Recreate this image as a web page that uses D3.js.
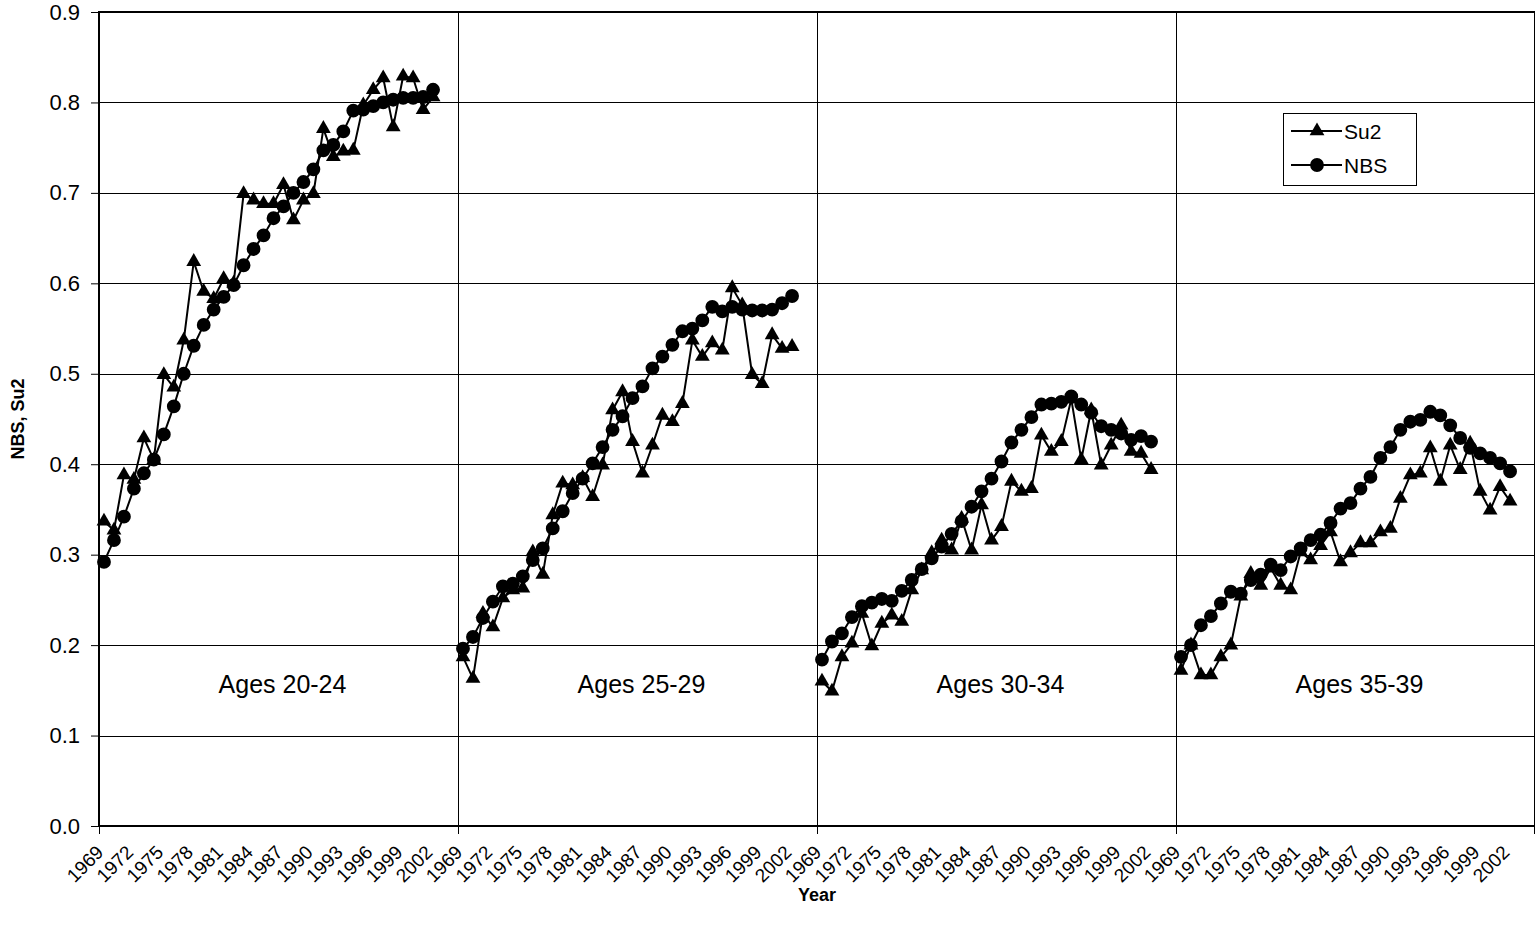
<!DOCTYPE html>
<html>
<head>
<meta charset="utf-8">
<script src="https://cdn.jsdelivr.net/npm/d3@7"></script>
<style>
  body { margin: 0; background: #fff; }
  text { font-family: "Liberation Sans", Arial, sans-serif; fill: #000; }
</style>
</head>
<body>
<div id="chart"></div>
<script>
// categories: each panel runs 1969..2004 on the axis, data 1969..2002
const years = [1969,1970,1971,1972,1973,1974,1975,1976,1977,1978,1979,1980,1981,1982,1983,1984,1985,1986,
  1987,1988,1989,1990,1991,1992,1993,1994,1995,1996,1997,1998,1999,2000,2001,2002,2003,2004];
const ageGroups = ["Ages 20-24", "Ages 25-29", "Ages 30-34", "Ages 35-39"];
const yTicks = [0, 0.1, 0.2, 0.3, 0.4, 0.5, 0.6, 0.7, 0.8, 0.9];

const su2_2024 = [0.337,0.327,0.388,0.383,0.429,0.405,0.499,0.485,0.537,0.624,0.591,0.583,0.605,0.600,0.699,0.692,0.688,
  0.688,0.709,0.670,0.692,0.699,0.771,0.740,0.746,0.747,0.797,0.814,0.827,0.773,0.829,0.827,0.792,0.806];
const nbs_2024 = [0.292,0.316,0.342,0.373,0.390,0.405,0.433,0.464,0.500,0.531,0.554,0.571,0.585,0.598,0.620,0.638,0.653,
  0.672,0.685,0.700,0.712,0.726,0.747,0.753,0.768,0.791,0.792,0.796,0.800,0.803,0.805,0.805,0.806,0.814];

const su2_2529 = [0.187,0.163,0.235,0.220,0.252,0.261,0.263,0.303,0.278,0.344,0.379,0.377,0.385,0.364,0.399,0.460,0.480,
  0.425,0.390,0.421,0.454,0.447,0.467,0.537,0.519,0.534,0.526,0.595,0.576,0.499,0.489,0.543,0.528,0.530];
const nbs_2529 = [0.196,0.209,0.230,0.248,0.265,0.268,0.276,0.294,0.307,0.329,0.348,0.368,0.384,0.401,0.419,0.438,0.453,
  0.473,0.486,0.506,0.519,0.532,0.547,0.550,0.559,0.574,0.569,0.574,0.571,0.570,0.570,0.571,0.578,0.586];

const su2_3034 = [0.160,0.149,0.187,0.202,0.235,0.199,0.224,0.233,0.226,0.261,0.283,0.302,0.316,0.305,0.340,0.305,0.355,
  0.316,0.331,0.381,0.370,0.373,0.432,0.414,0.425,0.472,0.405,0.460,0.399,0.421,0.443,0.414,0.412,0.394];
const nbs_3034 = [0.184,0.204,0.213,0.231,0.243,0.247,0.251,0.249,0.260,0.272,0.284,0.296,0.309,0.323,0.337,0.353,0.370,
  0.384,0.403,0.424,0.438,0.452,0.466,0.467,0.469,0.475,0.466,0.457,0.442,0.438,0.434,0.427,0.431,0.425];

const su2_3539 = [0.172,0.200,0.167,0.167,0.187,0.200,0.254,0.279,0.266,0.285,0.266,0.261,0.303,0.294,0.310,0.325,0.292,
  0.302,0.313,0.313,0.325,0.329,0.362,0.388,0.390,0.418,0.381,0.421,0.394,0.423,0.370,0.349,0.375,0.359];
const nbs_3539 = [0.187,0.200,0.222,0.232,0.246,0.259,0.257,0.272,0.278,0.289,0.283,0.298,0.307,0.316,0.322,0.335,0.351,
  0.357,0.373,0.386,0.407,0.419,0.438,0.447,0.449,0.458,0.454,0.443,0.429,0.418,0.412,0.407,0.401,0.392];

const su2Series = [su2_2024, su2_2529, su2_3034, su2_3539];
const nbsSeries = [nbs_2024, nbs_2529, nbs_3034, nbs_3539];

const width = 1535, height = 935
  , plotLeft = 99, plotRight = 1535, plotTop = 12, plotBottom = 826;

// one category per panel/year
const cats = [];
ageGroups.forEach((g, p) => years.forEach(yr => cats.push(p + "-" + yr)));

const x = d3.scaleBand().domain(cats).range([plotLeft, plotRight]).padding(0);
const cx = (p, yr) => x(p + "-" + yr) + x.bandwidth() / 2;
const y = d3.scaleLinear().domain([0, 0.9]).range([plotBottom, plotTop]);

const svg = d3.select("#chart").append("svg")
  .attr("width", width).attr("height", height);

// horizontal gridlines
svg.append("g").selectAll("line")
  .data(yTicks.slice(1, -1))
  .enter().append("line")
  .attr("x1", plotLeft).attr("x2", plotRight)
  .attr("y1", d => Math.round(y(d)) + 0.5).attr("y2", d => Math.round(y(d)) + 0.5)
  .style("stroke", "#000").style("stroke-width", 1);

// panel separators
svg.append("g").selectAll("line")
  .data([1, 2, 3])
  .enter().append("line")
  .attr("x1", p => Math.round(x(p + "-1969")) + 0.5).attr("x2", p => Math.round(x(p + "-1969")) + 0.5)
  .attr("y1", plotTop).attr("y2", plotBottom)
  .style("stroke", "#000").style("stroke-width", 1);

// frame: top and right
svg.append("line").attr("x1", plotLeft).attr("x2", plotRight).attr("y1", plotTop).attr("y2", plotTop)
  .style("stroke", "#000").style("stroke-width", 2);
svg.append("line").attr("x1", plotRight - 0.5).attr("x2", plotRight - 0.5).attr("y1", plotTop).attr("y2", plotBottom)
  .style("stroke", "#000").style("stroke-width", 1);

// y axis
const yAxis = svg.append("g")
  .attr("transform", `translate(${plotLeft},0)`)
  .call(d3.axisLeft(y).tickValues(yTicks).tickFormat(d3.format(".1f")).tickSize(8).tickPadding(11));
yAxis.select(".domain").remove();
yAxis.selectAll(".tick line").style("stroke", "#000");
yAxis.selectAll("text").style("font-size", "22px").style("font-family", "Liberation Sans, Arial, sans-serif");
svg.append("line").attr("x1", plotLeft).attr("x2", plotLeft).attr("y1", plotTop - 1).attr("y2", plotBottom + 1)
  .style("stroke", "#000").style("stroke-width", 2);

// x axis: labels every 3 years, tick marks at panel boundaries
const labelCats = [];
ageGroups.forEach((g, p) => years.filter((yr, i) => i % 3 == 0 && i < 34).forEach(yr => labelCats.push([p, yr])));

svg.append("line").attr("x1", plotLeft - 1).attr("x2", plotRight).attr("y1", plotBottom).attr("y2", plotBottom)
  .style("stroke", "#000").style("stroke-width", 2);
svg.append("g").selectAll("line")
  .data([0, 1, 2, 3])
  .enter().append("line")
  .attr("x1", p => Math.round(x(p + "-1969")) + 0.5).attr("x2", p => Math.round(x(p + "-1969")) + 0.5)
  .attr("y1", plotBottom).attr("y2", plotBottom + 8)
  .style("stroke", "#000").style("stroke-width", 1);
svg.append("line").attr("x1", plotRight - 0.5).attr("x2", plotRight - 0.5)
  .attr("y1", plotBottom).attr("y2", plotBottom + 8).style("stroke", "#000");

svg.append("g").selectAll("text")
  .data(labelCats)
  .enter().append("text")
  .attr("transform", d => `translate(${cx(d[0], d[1]) - 4},${plotBottom + 23}) rotate(-45)`)
  .attr("text-anchor", "end")
  .attr("dominant-baseline", "central")
  .style("font-size", "19px")
  .text(d => d[1]);

// series
const line = d3.line()
  .x((d, i) => cx(d.p, years[i]))
  .y(d => y(d.v));

function drawSeries(seriesList, symbol, symbolSize) {
  const g = svg.append("g");
  seriesList.forEach((vals, p) => {
    const pts = vals.map(v => ({p: p, v: v}));
    g.append("path")
      .datum(pts)
      .attr("d", line)
      .style("fill", "none").style("stroke", "#000").style("stroke-width", 2);
    g.selectAll(null)
      .data(pts)
      .enter().append("path")
      .attr("transform", (d, i) => `translate(${cx(p, years[i])},${y(d.v)})`)
      .attr("d", d3.symbol().type(symbol).size(symbolSize))
      .style("fill", "#000");
  });
}
drawSeries(su2Series, d3.symbolTriangle, 95);
drawSeries(nbsSeries, d3.symbolCircle, 150);

// panel captions
svg.append("g").selectAll("text")
  .data(ageGroups)
  .enter().append("text")
  .attr("x", (g, p) => (x(p + "-1969") + x(p + "-2004") + x.bandwidth()) / 2 + 4)
  .attr("y", 693)
  .attr("text-anchor", "middle")
  .style("font-size", "25px")
  .text(d => d);

// axis titles
svg.append("text")
  .attr("x", 817).attr("y", 901)
  .attr("text-anchor", "middle")
  .style("font-size", "18px").style("font-weight", "bold")
  .text("Year");
svg.append("text")
  .attr("transform", "translate(24,419) rotate(-90)")
  .attr("text-anchor", "middle")
  .style("font-size", "18px").style("font-weight", "bold")
  .text("NBS, Su2");

// legend
const legend = svg.append("g");
legend.append("rect")
  .attr("x", 1283.5).attr("y", 113.5).attr("width", 133).attr("height", 72)
  .style("fill", "#fff").style("stroke", "#000").style("stroke-width", 1);
const legendItems = [["Su2", d3.symbolTriangle, 95, 131], ["NBS", d3.symbolCircle, 150, 165]];
legendItems.forEach(item => {
  legend.append("line")
    .attr("x1", 1291).attr("x2", 1342).attr("y1", item[3]).attr("y2", item[3])
    .style("stroke", "#000").style("stroke-width", 2);
  legend.append("path")
    .attr("transform", `translate(1317,${item[3]})`)
    .attr("d", d3.symbol().type(item[1]).size(item[2]))
    .style("fill", "#000");
  legend.append("text")
    .attr("x", 1344).attr("y", item[3])
    .attr("dominant-baseline", "central")
    .style("font-size", "21px")
    .text(item[0]);
});
</script>
</body>
</html>
